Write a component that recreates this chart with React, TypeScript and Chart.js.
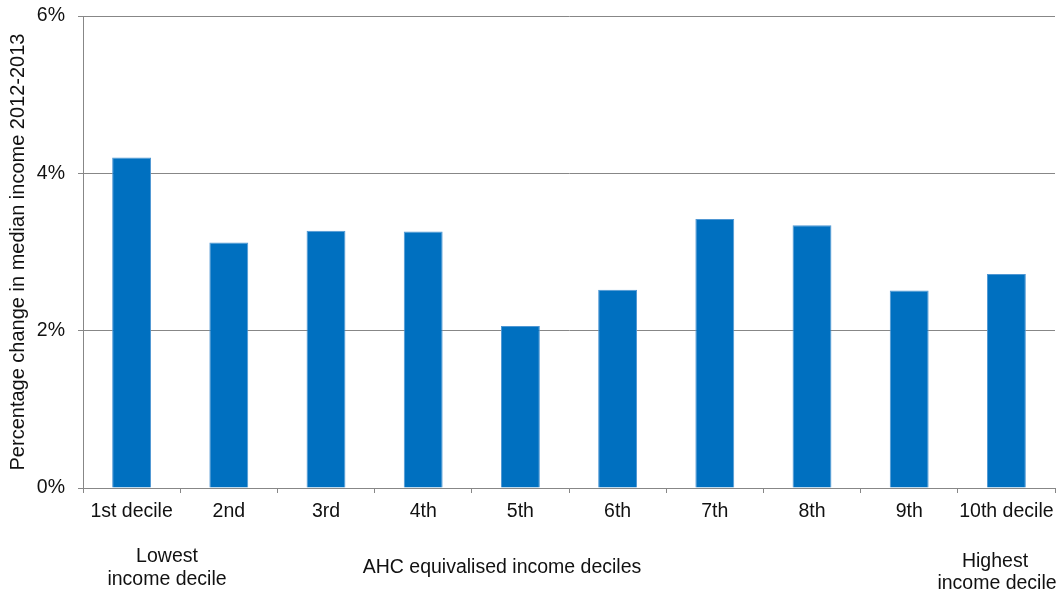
import React, { useEffect, useRef } from "react";
import { Chart, registerables } from "chart.js";

Chart.register(...registerables);

const deciles = ["1st decile", "2nd", "3rd", "4th", "5th", "6th", "7th", "8th", "9th", "10th decile"];
const medianIncomeChange = [4.2, 3.12, 3.27, 3.26, 2.06, 2.52, 3.42, 3.34, 2.51, 2.72];
const yTicks = [0, 2, 4, 6];

const FONT = "'Liberation Sans', Arial, Helvetica, sans-serif";
const GREY = "#878787";
const TEXT = "#111";

// Free-standing captions below the category axis
const captionPlugin = {
  id: "captions",
  afterDraw(chart: any) {
    const ctx = chart.ctx as CanvasRenderingContext2D;
    ctx.save();
    ctx.fillStyle = TEXT;
    ctx.font = `19.5px ${FONT}`;
    ctx.textAlign = "center";
    ctx.textBaseline = "middle";
    ctx.fillText("Lowest", 167, 557);
    ctx.fillText("income decile", 167, 580);
    ctx.fillText("AHC equivalised income deciles", 502, 568);
    ctx.fillText("Highest", 995, 562);
    ctx.fillText("income decile", 997, 584);
    ctx.restore();
  },
};

export default function App() {
  const ref = useRef<HTMLCanvasElement | null>(null);

  useEffect(() => {
    if (!ref.current) return;
    const chart = new Chart(ref.current, {
      type: "bar",
      data: {
        labels: deciles,
        datasets: [
          {
            data: medianIncomeChange,
            backgroundColor: "#0070C0",
            borderColor: "#4F97D3",
            borderWidth: 1,
            categoryPercentage: 1,
            barPercentage: 0.4,
          },
        ],
      },
      options: {
        animation: false,
        responsive: false,
        maintainAspectRatio: false,
        layout: { padding: { left: 0, right: 5, top: 16, bottom: 0 } },
        plugins: {
          legend: { display: false },
          tooltip: { enabled: false },
        },
        scales: {
          x: {
            afterFit(scale: any) {
              scale.height = 106;
              scale.paddingLeft = 0;
              scale.paddingRight = 0;
            },
            grid: {
              offset: true,
              drawOnChartArea: false,
              drawTicks: true,
              tickLength: 5,
              color: GREY,
            },
            border: { color: GREY, width: 1 },
            ticks: {
              color: TEXT,
              font: { family: FONT, size: 19.5 },
              padding: 7,
              maxRotation: 0,
              autoSkip: false,
            },
          },
          y: {
            min: 0,
            max: 6,
            afterFit(scale: any) {
              scale.width = 83;
              scale.paddingTop = 0;
              scale.paddingBottom = 0;
            },
            afterBuildTicks(scale: any) {
              scale.ticks = yTicks.map((v) => ({ value: v }));
            },
            grid: {
              color: GREY,
              tickLength: 5,
              drawTicks: true,
            },
            border: { color: GREY, width: 1 },
            ticks: {
              color: TEXT,
              font: { family: FONT, size: 19.5 },
              padding: 13,
              callback: (v: any) => `${v}%`,
            },
            title: {
              display: true,
              text: "Percentage change in median income 2012-2013",
              color: TEXT,
              font: { family: FONT, size: 20 },
              padding: { top: 6, bottom: 0 },
            },
          },
        },
      },
      plugins: [captionPlugin],
    });
    return () => chart.destroy();
  }, []);

  return (
    <div style={{ position: "absolute", left: 0, top: 0, width: 1060, height: 594, background: "#fff" }}>
      <canvas ref={ref} width={1060} height={594} style={{ width: 1060, height: 594 }} />
    </div>
  );
}
